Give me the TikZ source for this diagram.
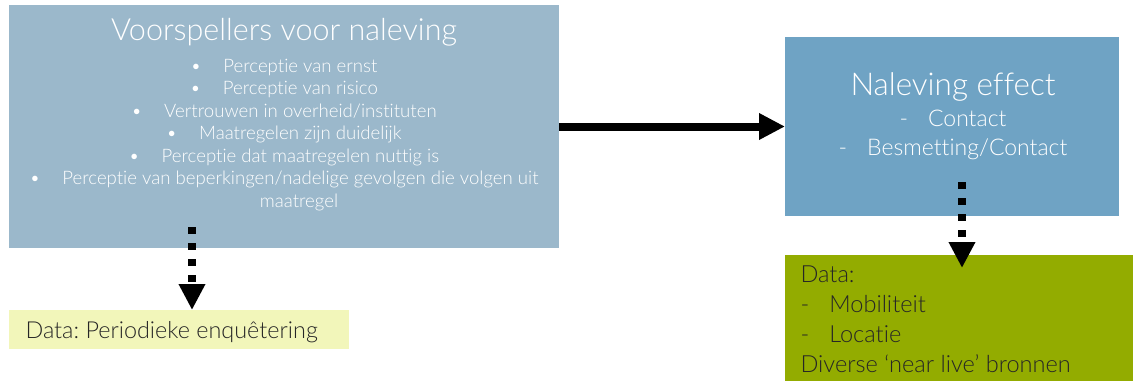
\documentclass[tikz,border=0pt]{standalone}
\usepackage{fontspec}
\IfFontExistsTF{Lato Light}{\setmainfont{Lato Light}[Ligatures=NoCommon]}{\setmainfont{Lato}[Ligatures=NoCommon]}
\usetikzlibrary{arrows.meta,positioning}
\frenchspacing

\definecolor{predblue}{HTML}{9BB8CB}
\definecolor{effblue}{HTML}{6FA3C4}
\definecolor{survey}{HTML}{F2F6BA}
\definecolor{livegreen}{HTML}{93AC00}
\definecolor{darktext}{HTML}{262626}

\tikzset{
  panel/.style={inner sep=0pt, outer sep=0pt, anchor=north west},
  flowarrow/.style={line width=8pt, -{Triangle[length=26pt,width=25pt]}},
  dataarrow/.style={line width=8pt, dash pattern=on 7pt off 9pt, -{Triangle[length=26pt,width=25pt]}},
}

\begin{document}
\begin{tikzpicture}[x=1pt,y=-1pt]
\useasboundingbox (0,0) rectangle (1133,381);

% boxes
\node[panel, fill=predblue, minimum width=550pt, minimum height=243pt] (pred) at (9,5) {};
\node[panel, fill=effblue, minimum width=334pt, minimum height=179pt] (eff) at (785,37) {};
\node[panel, fill=survey, minimum width=340pt, minimum height=39pt] (surveydata) at (9,310) {};
\node[panel, fill=livegreen, minimum width=348pt, minimum height=126pt] (livedata) at (785,255) {};

% texts (base of a multi-line node = last line)
\node[anchor=base, text=white, font=\fontsize{30.5}{36}\selectfont] (predtitle) at (284,40) {Voorspellers voor naleving};
\node[anchor=base, text=white, align=center, font=\fontsize{18.6}{22.5}\selectfont] (predlist) at (284,207)
  {\textbullet\hspace{22pt}Perceptie van ernst\\
   \textbullet\hspace{22pt}Perceptie van risico\\
   \textbullet\hspace{22pt}Vertrouwen in overheid/instituten\\
   \textbullet\hspace{22pt}Maatregelen zijn duidelijk\\
   \textbullet\hspace{22pt}Perceptie dat maatregelen nuttig is\\
   \textbullet\hspace{22pt}Perceptie van beperkingen/nadelige gevolgen die volgen uit\\
   \hspace*{30pt}maatregel};

\node[anchor=base, text=white, font=\fontsize{31.4}{36}\selectfont] (efftitle) at (953,95) {Naleving effect};
\node[anchor=base, text=white, align=center, font=\fontsize{23}{29}\selectfont] (efflist) at (953,155)
  {-\hspace{20pt}Contact\\
   -\hspace{20pt}Besmetting/Contact};

\node[anchor=base west, text=darktext, font=\fontsize{23.4}{26}\selectfont] (surveytxt) at (22,338) {Data: Periodieke enquêtering};
\node[anchor=base west, text=darktext, align=left, font=\fontsize{23.6}{29.7}\selectfont] (livetxt) at (797,372)
  {Data:\\
   -\hspace{20pt}Mobiliteit\\
   -\hspace{20pt}Locatie\\
   Diverse ‘near live’ bronnen};

% connectors
\coordinate (predout) at (192,227);
\coordinate (effout) at (962,182);
\coordinate (livein) at (962,268);
\draw[flowarrow] (pred.east) -- (eff.west);
\draw[dataarrow] (predout) -- (predout |- surveydata.north);
\draw[dataarrow] (effout) -- (livein);
\end{tikzpicture}
\end{document}
